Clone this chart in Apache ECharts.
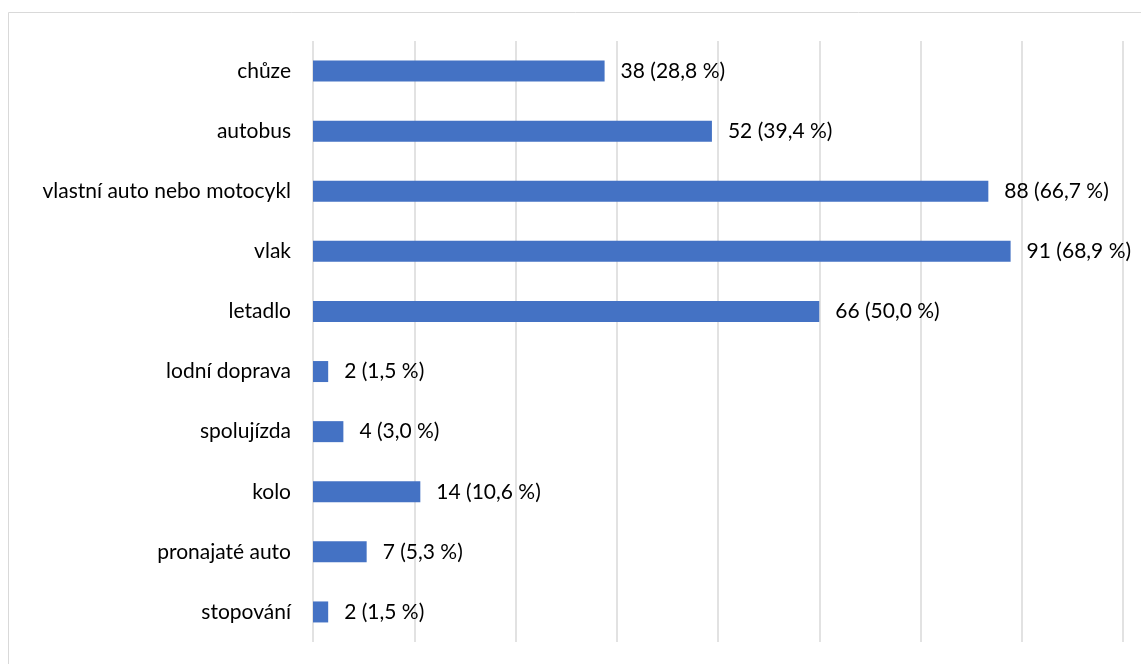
<!DOCTYPE html>
<html>
<head>
<meta charset="utf-8">
<script src="https://cdn.jsdelivr.net/npm/echarts@6/dist/echarts.min.js"></script>
<style>
  html, body { margin: 0; padding: 0; background: #fff; }
  #chart { width: 1141px; height: 664px; }
</style>
</head>
<body>
<div id="chart"></div>
<script>
// kategorie odshora dolů
const categories = [
  'chůze', 'autobus', 'vlastní auto nebo motocykl', 'vlak', 'letadlo',
  'lodní doprava', 'spolujízda', 'kolo', 'pronajaté auto', 'stopování'
]
const counts = [38, 52, 88, 91, 66, 2, 4, 14, 7, 2]
const percents = [28.8, 39.4, 66.7, 68.9, 50.0, 1.5, 3.0, 10.6, 5.3, 1.5]

const font = 'Lato, Open Sans, sans-serif'

const chart = echarts.init(document.getElementById('chart'))
chart.setOption({
  animation: false,
  graphic: [{
    type: 'rect',
    shape: { x: 8.5, y: 12.5, width: 1200, height: 700 },
    style: { fill: 'none', stroke: '#d9d9d9', lineWidth: 1 },
    silent: true
  }],
  grid: {
    left: 313,
    right: 18,
    top: 41,
    bottom: 22
  },
  xAxis: {
    type: 'value',
    min: 0,
    max: 80,
    interval: 10,
    axisLabel: { show: false },
    axisLine: { show: false },
    axisTick: { show: false },
    splitLine: { lineStyle: { color: '#d9d9d9', width: 1.5 } }
  },
  yAxis: {
    type: 'category',
    inverse: true,
    data: categories,
    axisTick: { show: false },
    axisLine: { show: false },
    axisLabel: {
      color: '#000',
      fontSize: 21,
      fontFamily: font,
      margin: 22
    }
  },
  series: [{
    type: 'bar',
    data: percents,
    barWidth: 21,
    itemStyle: { color: '#4472c4' },
    label: {
      show: true,
      position: 'right',
      distance: 16,
      color: '#000',
      fontSize: 21,
      fontFamily: font,
      formatter: function(p) {
        return counts[p.dataIndex] + ' (' + percents[p.dataIndex].toFixed(1).replace('.', ',') + ' %)'
      }
    }
  }]
})
</script>
</body>
</html>
